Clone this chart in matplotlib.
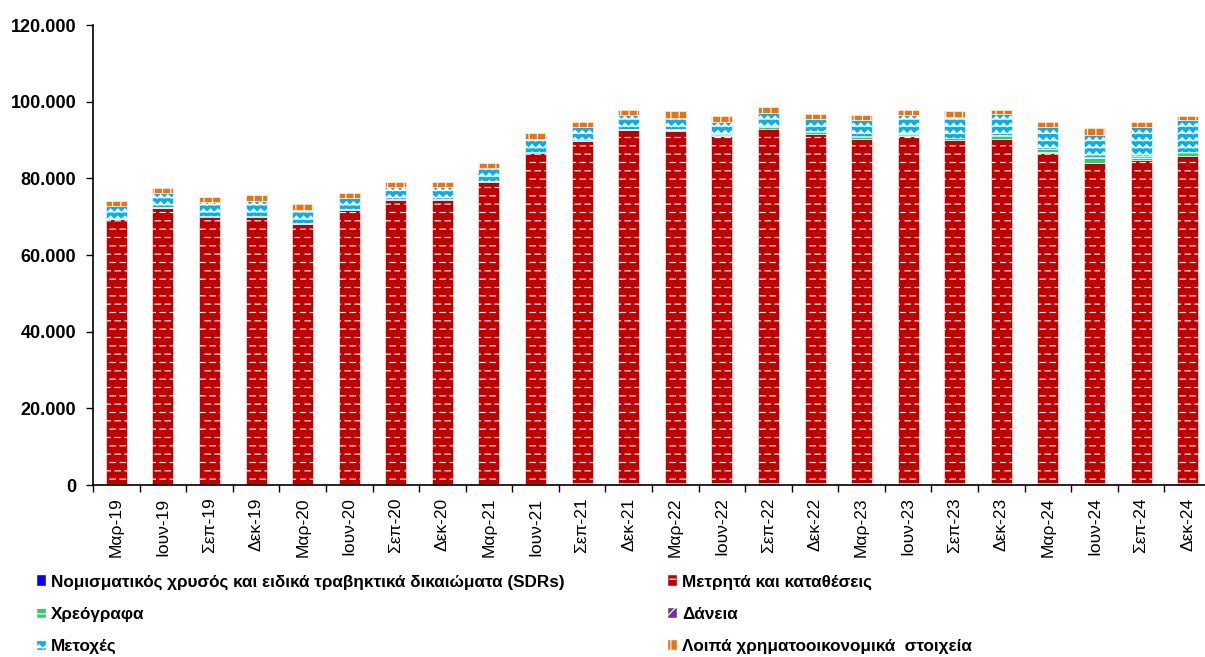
import numpy as np
import matplotlib
matplotlib.use('Agg')
import matplotlib.pyplot as plt
import matplotlib.hatch as mhatch
from matplotlib.path import Path
from matplotlib.patches import Patch
from matplotlib.ticker import FixedLocator, FuncFormatter

# quarters
labels = ['Μαρ-19', 'Ιουν-19', 'Σεπ-19', 'Δεκ-19', 'Μαρ-20', 'Ιουν-20', 'Σεπ-20', 'Δεκ-20',
          'Μαρ-21', 'Ιουν-21', 'Σεπ-21', 'Δεκ-21', 'Μαρ-22', 'Ιουν-22', 'Σεπ-22', 'Δεκ-22',
          'Μαρ-23', 'Ιουν-23', 'Σεπ-23', 'Δεκ-23', 'Μαρ-24', 'Ιουν-24', 'Σεπ-24', 'Δεκ-24']

# series
gold = [50] * 10 + [600] * 14
cash = [69350, 72150, 69750, 69950, 68150, 71650, 74250, 74250, 79050, 86450,
        89200, 92000, 91800, 90500, 92400, 90900, 89700, 90500, 89400, 89600,
        85900, 83500, 84200, 85100]
securities = [200] * 10 + [300, 300, 500, 300, 300, 700, 600, 500, 600, 1100,
                           1100, 1400, 1000, 1100]
loans = [50] * 24
shares = [3150, 3850, 3850, 3950, 3250, 3050, 3250, 3150, 3250, 3550,
          3150, 3550, 2850, 3350, 3750, 3150, 4250, 4850, 5450, 5450,
          5850, 5750, 7650, 8350]
other = [1400, 1300, 1300, 1500, 1500, 1300, 1200, 1300, 1500, 1400,
         1500, 1300, 1800, 1500, 1600, 1400, 1300, 1300, 1500, 1000,
         1300, 1700, 1300, 1100]

names = ['Νομισματικός χρυσός και ειδικά τραβηκτικά δικαιώματα (SDRs)',
         'Μετρητά και καταθέσεις',
         'Χρεόγραφα',
         'Δάνεια',
         'Μετοχές',
         'Λοιπά χρηματοοικονομικά  στοιχεία']


# custom hatches: 'o' staggered short dashes, 'O' zigzag lines
class BrickDashes(mhatch.HatchPatternBase):
    rows, per_row = 12, 10

    def __init__(self, hatch, density):
        self.num_vertices = self.rows * self.per_row * 2 if 'o' in hatch else 0

    def set_vertices_and_codes(self, vertices, codes):
        i = 0
        for r in range(self.rows):
            y = (r + 0.5) / self.rows
            shift = 0.5 * (r % 2)
            for j in range(self.per_row):
                x0 = (j + shift) / self.per_row
                vertices[i] = (x0, y)
                vertices[i + 1] = (x0 + 0.55 / self.per_row, y)
                codes[i] = Path.MOVETO
                codes[i + 1] = Path.LINETO
                i += 2


class Zigzag(mhatch.HatchPatternBase):
    rows, teeth = 14, 14

    def __init__(self, hatch, density):
        self.num_vertices = self.rows * (2 * self.teeth + 1) if 'O' in hatch else 0

    def set_vertices_and_codes(self, vertices, codes):
        n = 2 * self.teeth + 1
        xs = np.linspace(0, 1, n)
        amp = 0.25 / self.rows
        for r in range(self.rows):
            y = (r + 0.5) / self.rows
            ys = y + amp * np.where(np.arange(n) % 2 == 0, -1, 1)
            vertices[r * n:(r + 1) * n, 0] = xs
            vertices[r * n:(r + 1) * n, 1] = ys
            codes[r * n] = Path.MOVETO
            codes[r * n + 1:(r + 1) * n] = Path.LINETO


mhatch._hatch_types[:] = [mhatch.HorizontalHatch, mhatch.VerticalHatch,
                          mhatch.NorthEastHatch, BrickDashes, Zigzag]

plt.rcParams['font.family'] = ['Liberation Sans', 'DejaVu Sans']
plt.rcParams['hatch.color'] = 'white'
plt.rcParams['hatch.linewidth'] = 0.85

series = [gold, cash, securities, loans, shares, other]
colors = ['#0000FF', '#C00000', '#33CC66', '#7030A0', '#00B0F0', '#E8730F']
hatches = [None, 'o', '---', '//', 'O', '||']

W, H = 1205, 657
fig = plt.figure(figsize=(W / 100, H / 100), dpi=100)
ax = fig.add_axes([93 / W, (H - 485) / H, 1118 / W, 460 / H])

x = np.arange(len(labels))
bottom = np.zeros(len(labels))
for vals, col, hat in zip(series, colors, hatches):
    vals = np.array(vals, dtype=float)
    ax.bar(x, vals, 0.45, bottom=bottom, color=col, hatch=hat,
           edgecolor='white', linewidth=0.4)
    bottom += vals

ax.set_xlim(-0.5, 23.5)
ax.set_ylim(0, 120000)
ax.yaxis.set_major_locator(FixedLocator(np.arange(0, 120001, 20000)))
ax.yaxis.set_major_formatter(FuncFormatter(lambda v, p: f'{v:,.0f}'.replace(',', '.')))
for t in ax.get_yticklabels():
    t.set_fontweight('bold')
ax.tick_params(axis='y', labelsize=13, length=5, width=1, pad=7)

ax.set_xticks(np.arange(-0.5, 24, 1))
ax.set_xticklabels([])
ax.set_xticks(x, minor=True)
ax.set_xticklabels(labels, minor=True, rotation=90, fontsize=12.5)
ax.tick_params(axis='x', which='major', length=5, width=1)
ax.tick_params(axis='x', which='minor', length=0, pad=9)

for s in ['top', 'right']:
    ax.spines[s].set_visible(False)
for s in ['left', 'bottom']:
    ax.spines[s].set_linewidth(1.2)

handles = [Patch(facecolor=c, hatch=h, edgecolor='white', linewidth=0.3, label=n)
           for c, h, n in zip(colors, hatches, names)]
legend_kw = dict(frameon=False, loc='upper left', handlelength=0.55, handleheight=0.55,
                 handletextpad=0.3, labelspacing=1.0, borderpad=0,
                 prop={'weight': 'bold', 'size': 12.3})
fig.legend(handles=handles[0::2], bbox_to_anchor=(28 / W, 1 - 566 / H), **legend_kw)
fig.legend(handles=handles[1::2], bbox_to_anchor=(659 / W, 1 - 566 / H), **legend_kw)

fig.savefig('out.png', dpi=100)
